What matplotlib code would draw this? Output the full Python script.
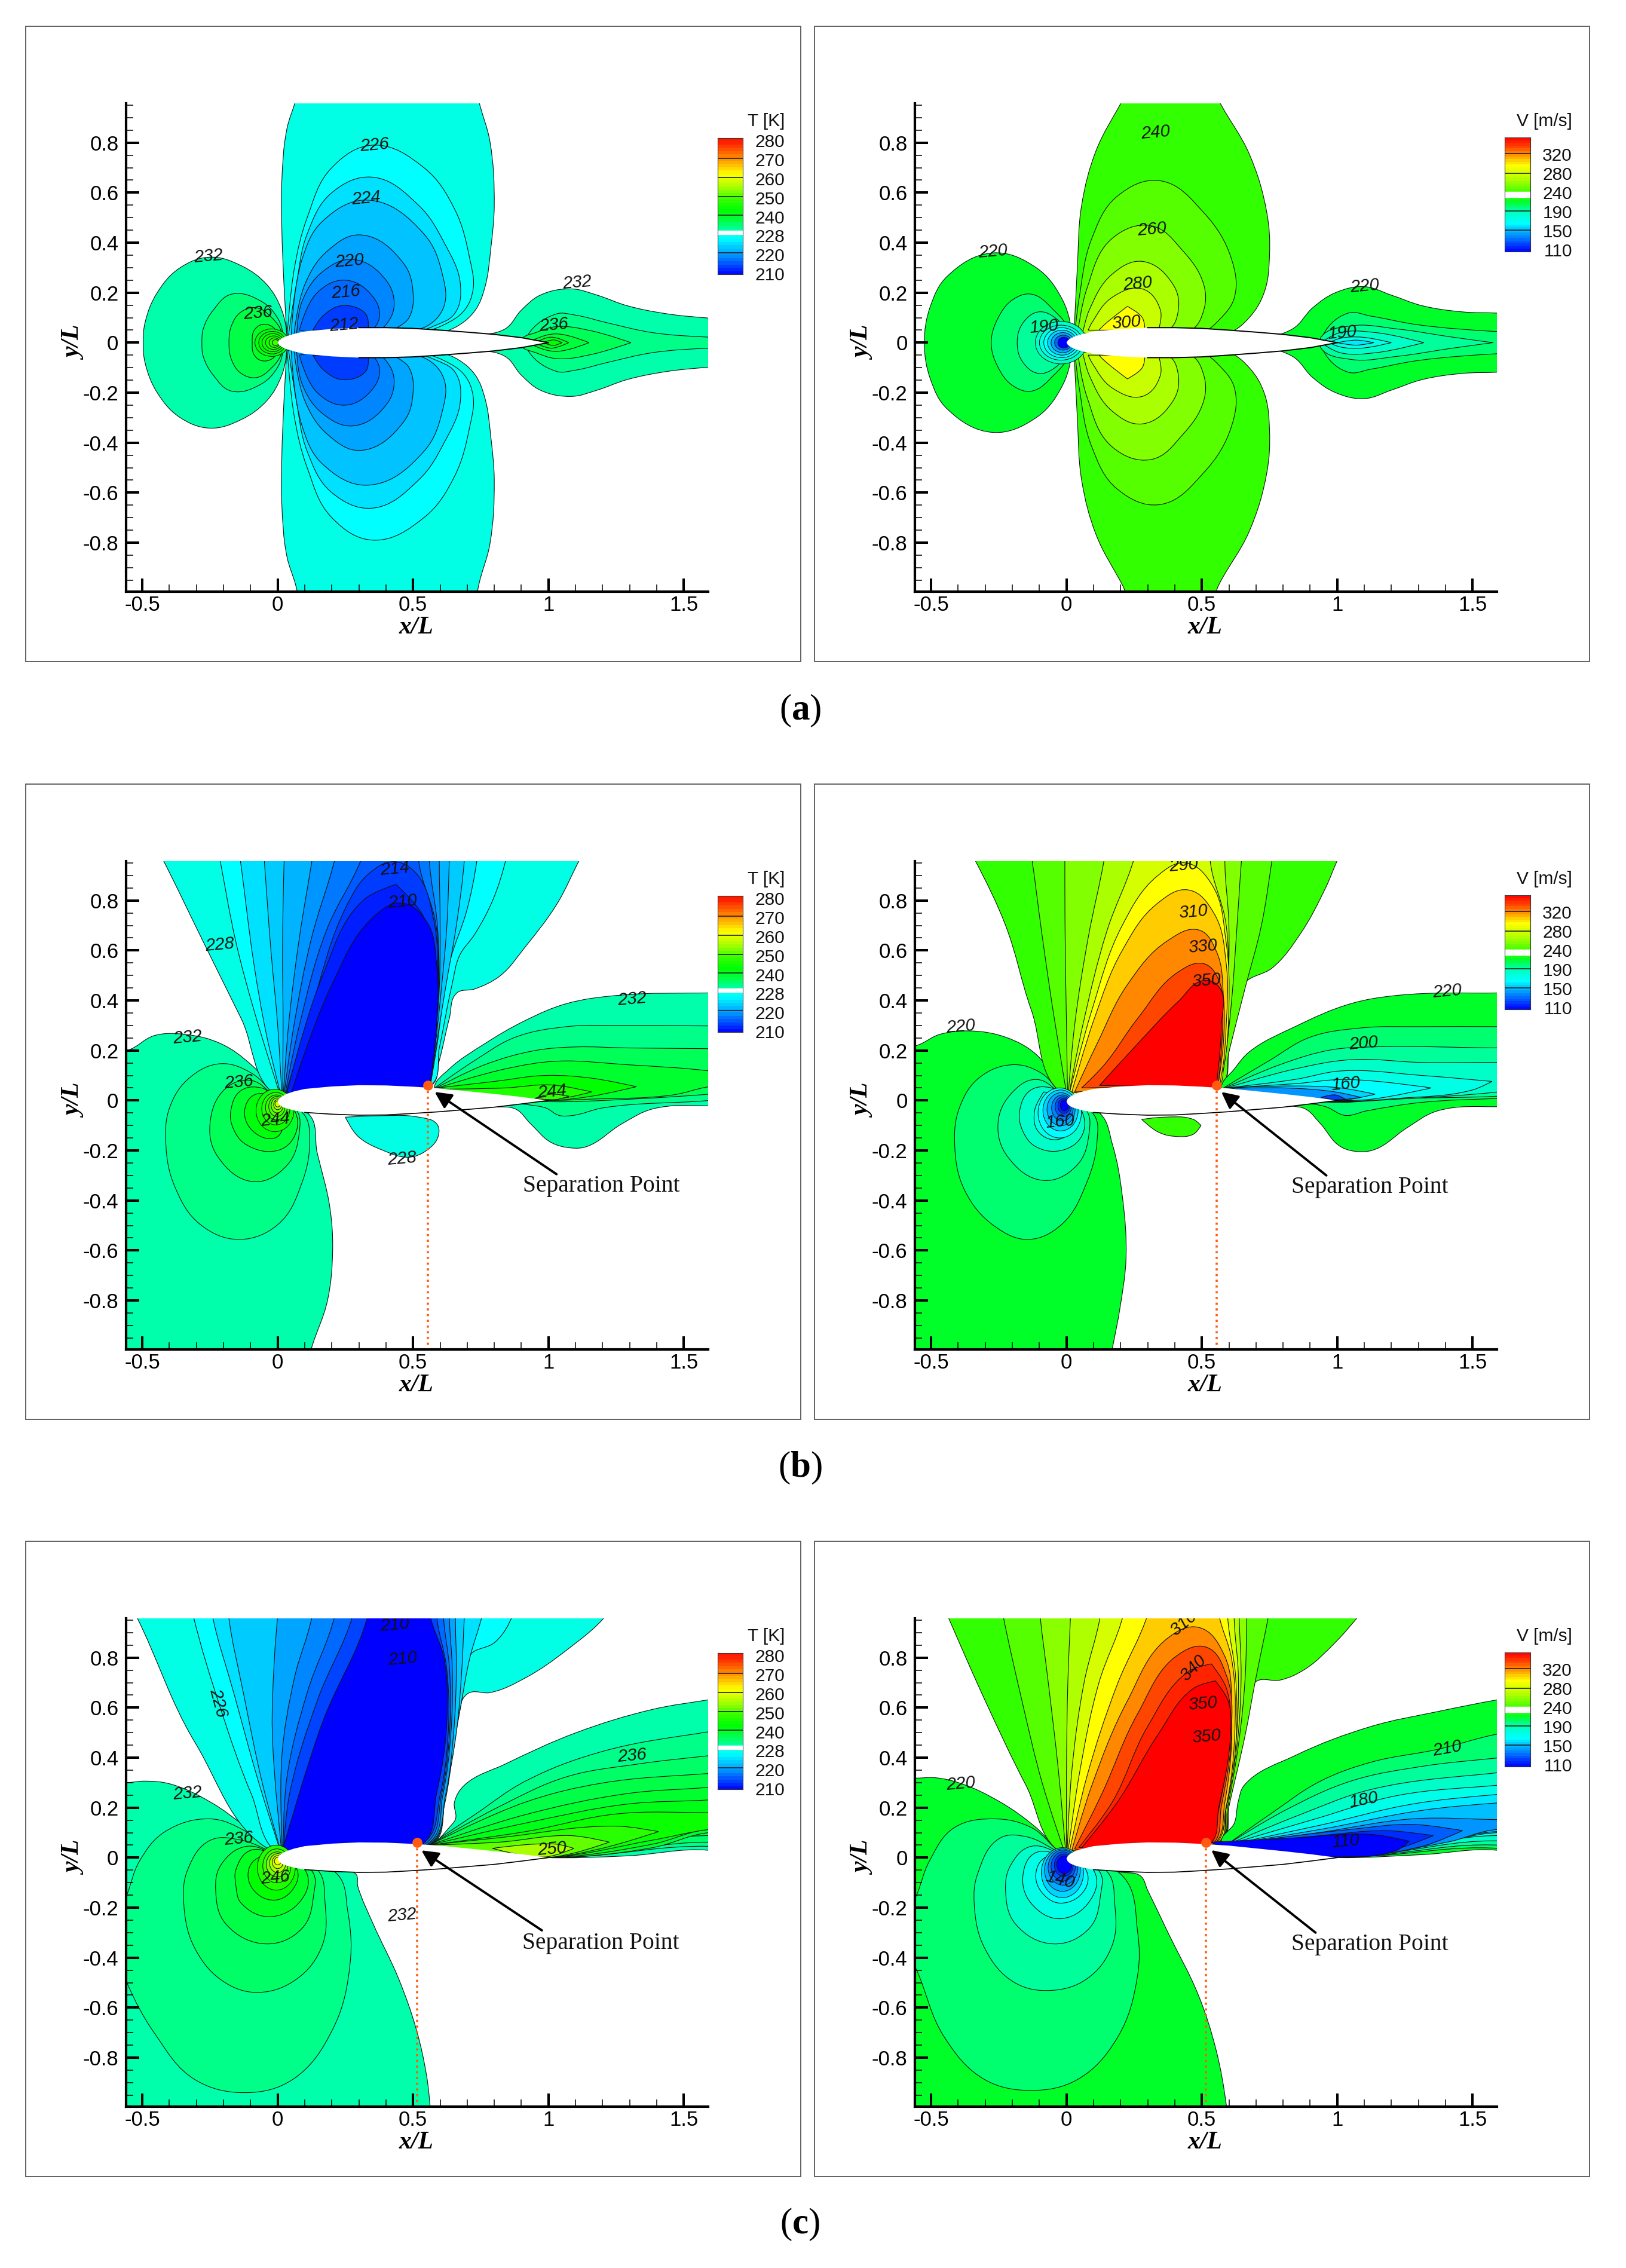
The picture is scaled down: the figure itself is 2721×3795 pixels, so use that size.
import numpy as np
import matplotlib
matplotlib.use('Agg')
import matplotlib.pyplot as plt
from matplotlib.path import Path
from matplotlib.patches import PathPatch, Ellipse, Rectangle

plt.rcParams['font.family'] = ['Liberation Sans', 'DejaVu Sans']
plt.rcParams['axes.unicode_minus'] = False
plt.rcParams['mathtext.fontset'] = 'custom'
plt.rcParams['mathtext.bf'] = 'Liberation Serif:bold'
plt.rcParams['mathtext.rm'] = 'Liberation Serif'

W, H = 2721, 3795

# colour scales
T_TICKS = [210, 220, 228, 240, 250, 260, 270, 280]
V_TICKS = [110, 150, 190, 240, 280, 320, 360]
T_NODES = [210, 227, 230, 232, 238, 244, 250, 256, 263, 270, 282]
T_R = [0, 0, 0, 0, 0, 0, 60, 170, 255, 255, 255]
T_G = [0, 255, 255, 255, 255, 255, 255, 255, 255, 160, 0]
T_B = [255, 255, 215, 170, 70, 0, 0, 0, 0, 0, 0]
V_NODES = [110, 170, 190, 210, 220, 240, 250, 260, 270, 280, 290, 300, 312, 325, 340, 360]
V_R = [0, 0, 0, 0, 0, 50, 85, 130, 170, 200, 225, 255, 255, 255, 255, 255]
V_G = [0, 255, 255, 255, 255, 255, 255, 255, 255, 255, 255, 255, 204, 136, 70, 0]
V_B = [255, 255, 200, 110, 40, 0, 0, 0, 0, 0, 0, 0, 0, 0, 0, 0]

# airfoil surfaces, row a is symmetric, rows b and c sit slightly tilted
FOIL_X = [0, .005, .015, .03, .06, .1, .2, .3, .4, .5, .6, .7, .8, .9, 1]
FOIL_A = [0, .009, .017, .025, .035, .045, .055, .06, .06, .057, .05, .042, .033, .02, 0]
FOIL_TILT_UP = [-.004, .007, .016, .025, .036, .046, .056, .061, .06, .055, .048, .037, .026, .014, 0]
FOIL_TILT_LO = [-.004, -.016, -.024, -.031, -.04, -.048, -.055, -.059, -.058, -.052, -.045, -.036, -.027, -.014, 0]

# ---- row a, temperature (upper half, mirrored when drawn)
A_T_LOBE = [
    (229, [(.034, .03), (.024, .215), (.015, .47), (.015, .64), (.034, .855), (.066, .968), (.1, 1.12), (.72, 1.12), (.743, .968), (.784, .805), (.80, .55), (.788, .384), (.765, .22), (.73, .13), (.67, .07), (.6, .04)]),
    (227, [(.035, .03), (.062, .30), (.109, .50), (.2, .70), (.353, .79), (.54, .70), (.653, .535), (.71, .333), (.722, .215), (.69, .13), (.615, .072), (.52, .04)]),
    (225, [(.04, .03), (.07, .24), (.109, .435), (.2, .60), (.349, .662), (.52, .55), (.615, .40), (.675, .232), (.653, .115), (.578, .067), (.5, .04)]),
    (223, [(.05, .03), (.09, .333), (.165, .485), (.334, .57), (.54, .435), (.61, .266), (.615, .148), (.56, .072), (.45, .04)]),
    (221, [(.06, .03), (.1, .232), (.184, .367), (.306, .431), (.465, .317), (.5, .2), (.484, .098), (.447, .064), (.4, .04)]),
    (219, [(.07, .03), (.09, .165), (.165, .283), (.278, .333), (.4, .25), (.43, .148), (.4, .072), (.36, .04)]),
    (217, [(.08, .05), (.146, .2), (.25, .25), (.353, .182), (.375, .098), (.343, .05)]),
    (214, [(.13, .05), (.17, .11), (.24, .148), (.325, .115), (.334, .05)]),
]
A_T_NOSE = [
    (232, [(.034, .0), (.034, .03), (.015, .13), (-.04, .232), (-.135, .308), (-.25, .342), (-.36, .30), (-.445, .2), (-.49, .08), (-.497, 0)]),
    (235, [(.02, 0), (.02, .03), (0, .098), (-.06, .165), (-.17, .194), (-.238, .13), (-.275, .055), (-.28, 0)]),
    (238, [(.015, 0), (.015, .04), (-.02, .098), (-.08, .14), (-.135, .123), (-.17, .07), (-.18, 0)]),
    (241, [(.005, 0), (.005, .02), (-.02, .064), (-.06, .072), (-.088, .047), (-.094, 0)]),
]
A_T_RINGS = [(243, -.022, 0, .062, .055), (244, -.02, 0, .05, .045), (245, -.018, 0, .04, .036),
             (246, -.015, 0, .03, .027), (248, -.012, 0, .02, .019), (250, -.008, 0, .012, .012)]
A_T_WAKE = [
    (232, [(.6, .03), (.73, .03), (.84, .055), (.9, .13), (.97, .19), (1.085, .215), (1.18, .19), (1.29, .148), (1.44, .115), (1.595, .098), (1.7, .09), (1.7, 0)]),
    (234, [(.915, 0), (.915, .013), (1.03, .115), (1.1, .11), (1.215, .08), (1.385, .04), (1.595, .022), (1.7, .02), (1.7, 0)]),
    (237, [(.9, 0), (.9, .013), (.953, .04), (1.03, .064), (1.16, .047), (1.305, 0)]),
    (239, [(.93, 0), (.953, .015), (1.03, .035), (1.15, 0)]),
    (241, [(.95, 0), (1.01, .022), (1.075, 0)]),
    (244, [(.98, 0), (1.02, .011), (1.05, 0)]),
]
A_T_LABELS = [('226', .358, .79, 5), ('224', .326, .578, 5), ('220', .266, .325, 5), ('216', .251, .202, 5), ('212', .246, .07, 5),
              ('232', -.257, .345, 5), ('236', -.073, .118, 5), ('232', 1.107, .239, 5), ('236', 1.02, .07, 5)]

# ---- row a, velocity
A_V_LOBE = [
    (240, [(.028, .03), (.04, .3), (.056, .55), (.11, .77), (.206, .968), (.28, 1.12), (.5, 1.12), (.563, .968), (.675, .755), (.74, .52), (.75, .35), (.73, .2), (.675, .1), (.6, .04)]),
    (250, [(.03, .03), (.047, .18), (.094, .418), (.188, .586), (.343, .648), (.507, .52), (.61, .333), (.62, .18), (.563, .09), (.5, .04)]),
    (260, [(.04, .03), (.075, .215), (.17, .418), (.31, .468), (.43, .367), (.507, .232), (.507, .13), (.46, .05)]),
    (270, [(.06, .04), (.084, .13), (.17, .275), (.28, .325), (.394, .232), (.413, .13), (.375, .05)]),
    (280, [(.08, .05), (.094, .08), (.17, .182), (.28, .215), (.347, .13), (.34, .05)]),
    (300, [(.12, .05), (.14, .072), (.225, .145), (.28, .1), (.29, .05)]),
]
A_V_NOSE = [
    (220, [(.019, 0), (.019, .047), (-.019, .18), (-.112, .3), (-.272, .359), (-.44, .266), (-.502, .148), (-.525, 0)]),
    (210, [(.01, 0), (.01, .047), (-.047, .13), (-.13, .194), (-.197, .173), (-.253, .098), (-.278, 0)]),
    (200, [(.005, 0), (.005, .03), (-.04, .098), (-.103, .123), (-.16, .08), (-.182, 0)]),
]
A_V_RINGS = [(190, -.02, 0, .095, .085), (180, -.02, 0, .08, .07), (170, -.018, 0, .066, .06), (160, -.016, 0, .054, .05),
             (150, -.014, 0, .043, .04), (135, -.012, 0, .032, .03), (110, -.01, 0, .022, .022)]
A_V_WAKE = [
    (220, [(.6, .03), (.713, .02), (.835, .055), (.91, .14), (.994, .2), (1.1, .224), (1.2, .19), (1.313, .148), (1.463, .123), (1.595, .118), (1.7, .11), (1.7, 0)]),
    (210, [(.94, 0), (.94, .013), (1.04, .118), (1.125, .106), (1.295, .072), (1.595, .044), (1.7, .04), (1.7, 0)]),
    (200, [(.94, 0), (.94, .022), (1.05, .067), (1.22, .055), (1.426, .022), (1.576, 0)]),
    (190, [(.94, 0), (1.01, .04), (1.144, .04), (1.32, 0)]),
    (180, [(.97, 0), (1.01, .017), (1.09, .022), (1.2, 0)]),
    (165, [(1.0, 0), (1.07, .01), (1.135, 0)]),
]
A_V_LABELS = [('240', .33, .839, 5), ('260', .315, .453, 5), ('280', .263, .236, 5), ('300', .221, .079, 5), ('220', -.272, .364, 5),
              ('190', -.084, .064, 5), ('220', 1.101, .226, 5), ('190', 1.019, .039, 5)]

# ---- row b, temperature
B_T_TOP = [
    (229, [(.01, .01), (-.135, .328), (-.266, .615), (-.426, .968), (-.5, 1.12), (1.2, 1.12), (1.118, .968), (1.03, .783), (.915, .615), (.82, .497), (.728, .446), (.662, .43), (.634, .328), (.597, .16), (.568, .06)]),
    (227, [(.012, .012), (-.088, .362), (-.154, .632), (-.214, .968), (-.24, 1.12), (.87, 1.12), (.844, .968), (.794, .8), (.728, .665), (.672, .58), (.644, .463), (.597, .21), (.566, .06)]),
    (225, [(.014, .012), (-.041, .26), (-.088, .547), (-.139, .968), (-.16, 1.12), (.75, 1.12), (.737, .968), (.7, .766), (.634, .547), (.587, .21), (.564, .06)]),
    (223.5, [(.016, .012), (0, .3), (-.025, .6), (-.05, .968), (-.06, 1.12), (.695, 1.12), (.69, .968), (.66, .7), (.62, .45), (.583, .2), (.563, .06)]),
    (222, [(.018, .012), (.02, .3), (.018, .6), (.024, .968), (.03, 1.12), (.638, 1.12), (.634, .968), (.625, .7), (.605, .45), (.58, .2), (.562, .06)]),
    (220, [(.02, .012), (.04, .3), (.08, .65), (.128, .968), (.15, 1.12), (.6, 1.12), (.597, .968), (.6, .7), (.597, .45), (.578, .2), (.561, .06)]),
    (218, [(.022, .012), (.06, .3), (.125, .65), (.212, .968), (.24, 1.12), (.565, 1.12), (.56, .968), (.59, .7), (.595, .45), (.575, .2), (.56, .06)]),
    (216, [(.025, .012), (.08, .3), (.18, .68), (.31, .968), (.35, 1.12), (.53, 1.12), (.52, .968), (.585, .7), (.592, .45), (.573, .2), (.559, .06)]),
    (214, [(.028, .02), (.12, .35), (.26, .79), (.34, .91), (.43, .955), (.51, .91), (.575, .73), (.59, .45), (.572, .2), (.558, .06)]),
    (212, [(.034, .03), (.165, .497), (.315, .8), (.437, .864), (.54, .733), (.587, .463), (.572, .2), (.557, .06)]),
    (210, [(.05, .03), (.2, .463), (.353, .733), (.456, .79), (.55, .716), (.587, .547), (.587, .295), (.56, .04)]),
]
B_T_BLOB = [(229, [(.25, -.067), (.353, -.062), (.522, -.067), (.587, -.093), (.593, -.143), (.55, -.2), (.484, -.227), (.39, -.2), (.296, -.143)])]
B_T_NOSE = [
    (232, [(-.7, .2), (-.557, .2), (-.454, .26), (-.34, .264), (-.21, .227), (-.098, .143), (0, .025), (.062, -.042), (.11, -.05), (.146, -.21), (.193, -.43), (.203, -.6), (.184, -.8), (.124, -.994), (.1, -1.1), (-.7, -1.1)]),
    (234, [(0, .012), (-.098, .11), (-.21, .147), (-.323, .093), (-.398, -.025), (-.413, -.177), (-.38, -.345), (-.285, -.497), (-.144, -.556), (0, -.497), (.09, -.328), (.118, -.16), (.1, -.06)]),
    (237, [(0, .005), (-.098, .08), (-.19, .05), (-.25, -.093), (-.22, -.227), (-.088, -.325), (.034, -.26), (.08, -.126), (.07, -.04)]),
    (240, [(0, .005), (-.06, .05), (-.135, .04), (-.173, -.04), (-.165, -.11), (-.116, -.177), (0, -.2), (.062, -.143), (.062, -.04)]),
    (243, [(0, 0), (-.08, .025), (-.122, -.04), (-.088, -.126), (-.01, -.15), (.024, -.1), (.034, -.04)]),
]
B_T_RINGS = [(245, -.01, -.04, .07, .085), (247, -.007, -.033, .052, .065), (249, -.005, -.028, .04, .05), (251, -.003, -.024, .03, .04),
             (253, -.002, -.02, .022, .03), (256, 0, -.017, .015, .02), (259, 0, -.014, .01, .012)]
B_T_WAKE = [
    (232, [(.578, .05), (.634, .126), (.765, .227), (.915, .32), (1.066, .387), (1.253, .42), (1.595, .43), (1.7, .43), (1.7, -.03), (1.595, -.022), (1.385, -.034), (1.272, -.093), (1.14, -.185), (1.084, -.19), (1.01, -.168), (.934, -.093), (.878, -.034), (.8, -.025), (.6, 0)]),
    (234, [(.58, .05), (.728, .16), (.878, .253), (1.066, .295), (1.29, .3), (1.595, .298), (1.7, .298), (1.7, .012), (1.595, 0), (1.2, -.03), (1.09, -.06), (1.04, -.06), (.99, -.03), (.93, -.018), (.8, 0)]),
    (237, [(.585, .05), (.765, .143), (.953, .2), (1.1, .214), (1.29, .21), (1.595, .207), (1.7, .205), (1.7, .035), (1.595, .025), (1.3, .005), (1.0, -.005), (.8, .01)]),
    (240, [(.59, .05), (.84, .126), (1.03, .157), (1.29, .143), (1.595, .118), (1.7, .1), (1.7, .06), (1.595, .055), (1.46, .022), (1.15, .005), (1, 0), (.8, .01)]),
    (244, [(.59, .05), (.8, .076), (.99, .1), (1.16, .089), (1.325, .055), (1.16, .017), (1, 0), (.8, .015)]),
    (247, [(.6, .045), (.84, .05), (1.01, .062), (1.16, .034), (1.03, .006), (.8, .02)]),
    (249, [(.95, .008), (1.01, .025), (1.075, .017), (1.03, .004)]),
]
B_T_LABELS = [('214', .432, .926, 5), ('210', .462, .795, 5), ('228', -.214, .623, 5), ('232', -.334, .253, 5), ('236', -.144, .072, 5), ('244', -.009, -.079, 5),
              ('228', .46, -.234, 5), ('232', 1.31, .406, 5), ('244', 1.013, .034, 5)]

# ---- row b, velocity
B_V_TOP = [
    (240, [(0, .017), (-.13, .362), (-.225, .7), (-.341, .968), (-.42, 1.12), (1.08, 1.12), (1.004, .968), (.957, .85), (.863, .665), (.76, .53), (.657, .468), (.63, .362), (.6, .194), (.572, .06)]),
    (250, [(.002, .017), (-.05, .362), (-.09, .66), (-.128, .968), (-.15, 1.12), (.78, 1.12), (.76, .968), (.72, .7), (.66, .45), (.6, .194), (.57, .06)]),
    (260, [(.004, .017), (.0, .3), (-.005, .65), (-.006, .968), (-.005, 1.12), (.66, 1.12), (.647, .968), (.63, .7), (.61, .4), (.585, .16), (.568, .06)]),
    (270, [(.006, .017), (.03, .3), (.08, .65), (.14, .968), (.16, 1.12), (.595, 1.12), (.585, .968), (.6, .7), (.595, .4), (.58, .16), (.566, .06)]),
    (285, [(.008, .017), (.06, .3), (.15, .68), (.25, .968), (.28, 1.12), (.54, 1.12), (.53, .968), (.59, .7), (.595, .4), (.58, .16), (.564, .06)]),
    (300, [(.01, .025), (.094, .362), (.206, .7), (.338, .9), (.44, .95), (.535, .867), (.59, .63), (.6, .38), (.58, .126), (.562, .06)]),
    (312, [(.02, .034), (.103, .328), (.206, .6), (.338, .79), (.45, .842), (.544, .75), (.59, .547), (.59, .3), (.572, .1), (.56, .06)]),
    (325, [(.03, .034), (.113, .227), (.225, .463), (.375, .64), (.488, .682), (.553, .598), (.58, .413), (.58, .235), (.56, .06)]),
    (340, [(.056, .05), (.14, .143), (.263, .328), (.413, .514), (.507, .547), (.563, .48), (.577, .33), (.56, .06)]),
    (360, [(.122, .06), (.263, .227), (.413, .396), (.507, .48), (.563, .455), (.572, .295), (.553, .05)]),
]
B_V_BLOB = [(240, [(.278, -.076), (.356, -.067), (.469, -.076), (.497, -.1), (.469, -.135), (.394, -.143), (.338, -.126)])]
B_V_NOSE = [
    (220, [(-.7, .2), (-.553, .22), (-.469, .264), (-.356, .278), (-.225, .253), (-.113, .185), (-.01, .034), (.056, -.025), (.122, -.05), (.17, -.177), (.206, -.38), (.22, -.63), (.197, -.834), (.169, -.994), (.15, -1.1), (-.7, -1.1)]),
    (210, [(-.01, .017), (-.094, .11), (-.197, .143), (-.32, .093), (-.394, -.025), (-.413, -.177), (-.375, -.362), (-.263, -.505), (-.141, -.556), (-.019, -.497), (.075, -.328), (.113, -.16), (.103, -.06)]),
    (200, [(-.01, .017), (-.113, .084), (-.206, .025), (-.253, -.093), (-.216, -.227), (-.084, -.32), (.038, -.26), (.084, -.126), (.075, -.042)]),
    (190, [(-.01, .017), (-.056, .05), (-.131, .042), (-.173, -.042), (-.16, -.126), (-.113, -.185), (-.019, -.2), (.056, -.143), (.056, -.042)]),
    (180, [(-.01, .012), (-.084, .034), (-.118, -.042), (-.103, -.126), (-.038, -.157), (.028, -.11), (.038, -.042)]),
]
B_V_RINGS = [(170, -.025, -.05, .08, .1), (160, -.022, -.04, .065, .082), (150, -.02, -.035, .052, .066), (140, -.015, -.03, .04, .052),
             (130, -.012, -.025, .03, .04), (120, -.01, -.022, .022, .03), (110, -.008, -.02, .015, .022)]
B_V_WAKE = [
    (220, [(.572, .05), (.62, .126), (.675, .194), (.844, .295), (1.05, .387), (1.22, .42), (1.595, .43), (1.7, .43), (1.7, -.03), (1.595, -.025), (1.37, -.042), (1.257, -.11), (1.144, -.194), (1.088, -.205), (1.013, -.185), (.938, -.093), (.882, -.034), (.826, -.022), (.6, 0)]),
    (210, [(.58, .05), (.75, .16), (.9, .253), (1.088, .29), (1.313, .295), (1.595, .295), (1.7, .295), (1.7, .012), (1.595, .008), (1.31, -.008), (1.107, -.042), (1.03, -.06), (.957, -.025), (.8, 0)]),
    (200, [(.585, .05), (.788, .143), (.976, .202), (1.126, .214), (1.595, .21), (1.7, .21), (1.7, .025), (1.595, .017), (1.18, .005), (1.013, -.008), (.8, .01)]),
    (190, [(.59, .05), (.844, .126), (1.05, .163), (1.313, .152), (1.595, .152), (1.7, .15), (1.7, .05), (1.595, .034), (1.22, .005), (1.013, -.005), (.8, .012)]),
    (180, [(.59, .05), (.844, .084), (1.013, .118), (1.313, .1), (1.572, .076), (1.5, .042), (1.22, .008), (1.013, -.003), (.8, .015)]),
    (170, [(.59, .05), (.844, .067), (1.03, .084), (1.347, .05), (1.126, .005), (1.0, 0), (.8, .018)]),
    (160, [(.59, .05), (.844, .058), (1.013, .05), (1.14, .025), (1.013, 0), (.8, .02)]),
    (145, [(.6, .048), (.807, .05), (.994, .034), (1.088, .012), (.99, .002), (.8, .022)]),
    (125, [(.94, .012), (.994, .022), (1.03, .005), (.99, .003)]),
]
B_V_LABELS = [('290', .432, .94, 5), ('310', .469, .754, 5), ('330', .503, .615, 5), ('350', .516, .48, 5), ('220', -.39, .295, 5), ('160', -.023, -.086, 5),
              ('220', 1.407, .436, 5), ('200', 1.098, .227, 5), ('160', 1.032, .066, 5)]

# ---- row c, temperature
C_T_TOP = [
    (229, [(.01, .01), (-.304, .458), (-.525, .972), (-.6, 1.12), (1.3, 1.12), (1.216, .972), (1.066, .829), (.915, .719), (.784, .66), (.709, .66), (.68, .627), (.653, .458), (.615, .205), (.578, .06)]),
    (227, [(.012, .012), (-.098, .256), (-.21, .593), (-.313, .972), (-.34, 1.12), (.9, 1.12), (.869, .972), (.803, .862), (.71, .81), (.68, .627), (.65, .458), (.61, .205), (.575, .06)]),
    (225, [(.014, .012), (-.07, .3), (-.16, .65), (-.242, .972), (-.26, 1.12), (.78, 1.12), (.756, .972), (.71, .8), (.675, .6), (.645, .42), (.605, .2), (.572, .06)]),
    (223.5, [(.015, .012), (-.055, .29), (-.125, .65), (-.182, .972), (-.19, 1.12), (.7, 1.12), (.69, .972), (.68, .75), (.66, .5), (.62, .26), (.57, .06)]),
    (221, [(.016, .012), (-.02, .5), (-.012, .8), (0, .972), (.01, 1.12), (.665, 1.12), (.657, .972), (.66, .75), (.65, .5), (.62, .25), (.565, .06)]),
    (219, [(.018, .012), (.015, .4), (.062, .72), (.128, .972), (.14, 1.12), (.64, 1.12), (.634, .972), (.645, .75), (.64, .5), (.61, .25), (.56, .06)]),
    (217, [(.02, .012), (.034, .32), (.109, .66), (.212, .972), (.23, 1.12), (.615, 1.12), (.612, .972), (.635, .75), (.635, .5), (.605, .25), (.55, .06)]),
    (214.5, [(.02, .012), (.043, .25), (.147, .63), (.278, .972), (.3, 1.12), (.59, 1.12), (.587, .972), (.625, .75), (.63, .5), (.6, .25), (.54, .06)]),
    (210, [(.015, .02), (.165, .54), (.334, .972), (.35, 1.12), (.56, 1.12), (.563, .972), (.615, .795), (.625, .54), (.587, .256), (.531, .05)]),
]
C_T_NOSE = [
    (232, [(-.7, .3), (-.557, .3), (-.49, .306), (-.398, .295), (-.248, .222), (-.116, .12), (0, .012), (.1, -.047), (.287, -.064), (.296, -.115), (.353, -.266), (.447, -.485), (.512, -.687), (.55, -.872), (.563, -.994), (.57, -1.1), (-.7, -1.1)]),
    (234, [(0, .012), (-.116, .104), (-.248, .155), (-.416, .104), (-.51, -.013), (-.557, -.148), (-.62, -.3), (-.557, -.5), (-.454, -.704), (-.304, -.889), (-.116, -.94), (.053, -.889), (.203, -.687), (.268, -.418), (.259, -.216), (.218, -.064)]),
    (236, [(0, .012), (-.135, .07), (-.248, .07), (-.332, -.047), (-.347, -.182), (-.304, -.367), (-.191, -.502), (-.069, -.539), (.071, -.485), (.165, -.35), (.175, -.182), (.146, -.047)]),
    (238, [(0, .006), (-.116, .045), (-.21, -.03), (-.229, -.131), (-.191, -.266), (-.041, -.345), (.09, -.283), (.133, -.148), (.128, -.056)]),
    (241, [(0, .004), (-.098, .03), (-.154, -.047), (-.154, -.115), (-.135, -.182), (-.022, -.236), (.1, -.148), (.1, -.047)]),
    (244, [(0, 0), (-.07, 0), (-.107, -.047), (-.088, -.131), (-.013, -.17), (.053, -.131), (.071, -.047)]),
]
C_T_RINGS = [(247, -.005, -.04, .07, .09), (250, -.003, -.033, .052, .068), (253, -.002, -.027, .04, .05), (256, 0, -.022, .03, .038),
             (259, 0, -.018, .02, .026), (262, 0, -.014, .012, .015)]
C_T_WAKE = [
    (232, [(.578, .054), (.634, .121), (.657, .155), (.653, .222), (.69, .29), (.84, .374), (1.103, .5), (1.385, .593), (1.595, .632), (1.7, .65), (1.7, 0), (1.595, .029), (1.29, .007), (.99, 0), (.6, .03)]),
    (234, [(.56, .05), (.728, .172), (.915, .306), (1.197, .424), (1.595, .504), (1.7, .52), (1.7, .03), (1.595, .045), (1.103, .003), (.99, 0), (.6, .03)]),
    (236, [(.56, .05), (.82, .205), (1.066, .323), (1.328, .374), (1.595, .408), (1.7, .42), (1.7, .05), (1.595, .062), (1.103, .006), (.99, 0), (.6, .03)]),
    (238, [(.56, .05), (.915, .222), (1.197, .298), (1.595, .337), (1.7, .345), (1.7, .07), (1.595, .088), (1.103, .008), (.99, 0), (.6, .03)]),
    (240, [(.56, .05), (.915, .172), (1.29, .256), (1.595, .281), (1.7, .29), (1.7, .09), (1.595, .1), (1.385, .04), (.99, 0), (.6, .03)]),
    (242, [(.56, .05), (.915, .138), (1.29, .214), (1.595, .231), (1.7, .24), (1.7, .1), (1.595, .113), (1.385, .054), (.99, 0), (.6, .03)]),
    (245, [(.56, .05), (.915, .104), (1.253, .175), (1.595, .18), (1.7, .18), (1.7, .12), (1.595, .113), (1.385, .07), (.99, 0), (.6, .03)]),
    (248, [(.56, .05), (.82, .08), (1.253, .126), (1.407, .104), (1.197, .037), (.99, 0), (.6, .03)]),
    (252, [(.56, .05), (.82, .062), (1.084, .088), (1.225, .062), (1.1, .02), (.99, 0), (.6, .03)]),
    (256, [(.794, .037), (1.028, .054), (1.094, .037), (.99, .003)]),
]
C_T_LABELS = [('210', .432, .93, 5), ('210', .462, .795, 5), ('226', -.22, .618, -75), ('232', -.334, .256, 5), ('236', -.144, .074, 5), ('246', -.009, -.081, 5),
              ('250', 1.013, .034, 5), ('236', 1.31, .408, 5), ('232', .46, -.232, 5)]

# ---- row c, velocity
C_V_TOP = [
    (240, [(-.006, .012), (-.15, .29), (-.3, .627), (-.441, .972), (-.5, 1.12), (1.2, 1.12), (1.084, .972), (.994, .862), (.88, .753), (.788, .71), (.704, .707), (.679, .669), (.647, .492), (.6, .205), (.572, .06)]),
    (250, [(-.004, .012), (-.09, .3), (-.165, .63), (-.235, .972), (-.26, 1.12), (.77, 1.12), (.747, .972), (.7, .72), (.66, .49), (.6, .205), (.57, .06)]),
    (262, [(-.002, .012), (-.03, .35), (-.065, .68), (-.098, .972), (-.11, 1.12), (.67, 1.12), (.666, .972), (.66, .72), (.635, .45), (.595, .2), (.568, .06)]),
    (272, [(0, .012), (0, .35), (.005, .7), (.015, .972), (.02, 1.12), (.64, 1.12), (.638, .972), (.645, .72), (.63, .45), (.59, .2), (.565, .06)]),
    (285, [(.002, .012), (.02, .35), (.065, .7), (.126, .972), (.14, 1.12), (.625, 1.12), (.619, .972), (.635, .72), (.625, .45), (.59, .2), (.56, .06)]),
    (300, [(.004, .012), (.05, .35), (.12, .7), (.21, .972), (.23, 1.12), (.6, 1.12), (.595, .972), (.625, .72), (.625, .45), (.59, .2), (.55, .06)]),
    (312, [(.01, .02), (.075, .323), (.188, .694), (.3, .972), (.33, 1.12), (.55, 1.12), (.563, .972), (.61, .795), (.623, .542), (.59, .205), (.545, .05)]),
    (325, [(.02, .03), (.094, .29), (.225, .627), (.375, .879), (.488, .921), (.582, .812), (.61, .593), (.585, .222), (.54, .05)]),
    (340, [(.03, .035), (.131, .256), (.263, .576), (.413, .812), (.516, .842), (.591, .728), (.61, .509), (.572, .205), (.535, .05)]),
    (350, [(.045, .04), (.169, .222), (.3, .525), (.45, .744), (.535, .775), (.591, .677), (.604, .492), (.565, .205), (.53, .05)]),
    (360, [(.056, .04), (.188, .222), (.338, .492), (.469, .677), (.55, .707), (.597, .627), (.606, .492), (.563, .205), (.525, .05)]),
]
C_V_NOSE = [
    (220, [(-.7, .32), (-.553, .318), (-.488, .32), (-.394, .298), (-.244, .222), (-.113, .121), (-.01, .012), (.113, -.047), (.206, -.059), (.272, -.072), (.3, -.131), (.375, -.3), (.488, -.552), (.553, -.771), (.591, -.994), (.6, -1.1), (-.7, -1.1)]),
    (210, [(-.01, .012), (-.131, .121), (-.263, .155), (-.413, .121), (-.506, -.013), (-.553, -.148), (-.62, -.3), (-.553, -.451), (-.45, -.72), (-.3, -.889), (-.131, -.931), (.038, -.889), (.188, -.72), (.263, -.468), (.263, -.3), (.206, -.072)]),
    (200, [(-.01, .012), (-.15, .084), (-.244, .079), (-.328, -.064), (-.341, -.182), (-.3, -.367), (-.188, -.502), (-.056, -.531), (.075, -.485), (.169, -.35), (.178, -.182), (.15, -.056)]),
    (190, [(-.01, .008), (-.131, .045), (-.206, -.03), (-.225, -.131), (-.188, -.266), (-.047, -.345), (.084, -.283), (.126, -.148), (.122, -.056)]),
    (180, [(-.01, .004), (-.113, .02), (-.16, -.064), (-.131, -.182), (-.019, -.244), (.1, -.148), (.098, -.047)]),
    (170, [(-.01, 0), (-.075, .003), (-.113, -.064), (-.084, -.148), (-.019, -.182), (.066, -.131), (.071, -.047)]),
]
C_V_RINGS = [(160, -.015, -.06, .078, .1), (150, -.015, -.05, .066, .085), (140, -.013, -.04, .055, .07), (130, -.012, -.035, .045, .058),
             (120, -.01, -.03, .035, .045), (110, -.008, -.028, .028, .035)]
C_V_WAKE = [
    (220, [(.572, .062), (.62, .138), (.634, .222), (.657, .29), (.844, .408), (1.126, .525), (1.37, .584), (1.595, .632), (1.7, .65), (1.7, 0), (1.595, .029), (1.313, .012), (.994, 0), (.6, .03)]),
    (210, [(.59, .05), (.75, .172), (.938, .306), (1.126, .382), (1.37, .433), (1.595, .495), (1.7, .51), (1.7, .015), (1.595, .037), (1.126, .006), (.994, 0), (.6, .03)]),
    (200, [(.59, .05), (.807, .189), (1.05, .306), (1.313, .365), (1.595, .399), (1.7, .41), (1.7, .03), (1.595, .05), (1.126, .008), (.994, 0), (.6, .03)]),
    (190, [(.59, .05), (.863, .172), (1.126, .273), (1.595, .34), (1.7, .35), (1.7, .05), (1.595, .067), (1.126, .01), (.994, 0), (.6, .03)]),
    (178, [(.59, .05), (.919, .155), (1.22, .248), (1.595, .29), (1.7, .3), (1.7, .07), (1.595, .088), (1.126, .012), (.994, 0), (.6, .03)]),
    (165, [(.59, .05), (.938, .13), (1.276, .214), (1.595, .253), (1.7, .26), (1.7, .09), (1.595, .1), (1.313, .045), (.994, 0), (.6, .03)]),
    (155, [(.58, .05), (.938, .113), (1.313, .189), (1.595, .219), (1.7, .225), (1.7, .1), (1.595, .105), (1.313, .05), (.994, 0), (.6, .03)]),
    (145, [(.58, .05), (.938, .101), (1.276, .155), (1.595, .152), (1.7, .15), (1.7, .1), (1.595, .113), (1.407, .062), (.994, 0), (.6, .03)]),
    (132, [(.57, .05), (1.05, .113), (1.276, .133), (1.463, .108), (1.313, .045), (.994, 0), (.6, .03)]),
    (120, [(.57, .05), (.938, .088), (1.182, .108), (1.355, .088), (1.22, .035), (.994, 0), (.6, .03)]),
    (110, [(.535, .062), (.844, .079), (1.126, .093), (1.266, .066), (1.22, .029), (.994, .003), (.6, .03)]),
]
C_V_LABELS = [('310', .432, .938, 40), ('340', .469, .758, 45), ('350', .503, .615, 5), ('350', .516, .483, 5), ('220', -.39, .295, 5), ('140', -.023, -.089, -15),
              ('210', 1.407, .436, 10), ('180', 1.098, .231, 10), ('110', 1.032, .066, 5)]

X_TICKS = [-0.5, 0, 0.5, 1, 1.5]
X_TICK_LABELS = ['-0.5', '0', '0.5', '1', '1.5']
Y_TICKS = [-0.8, -0.6, -0.4, -0.2, 0, 0.2, 0.4, 0.6, 0.8]
Y_TICK_LABELS = ['-0.8', '-0.6', '-0.4', '-0.2', '0', '0.2', '0.4', '0.6', '0.8']

SEP_B = (.555, .06)
SEP_C = (.515, .06)


def level_color(kind, level):
    if kind == 'T':
        nodes, r, g, b = T_NODES, T_R, T_G, T_B
    else:
        nodes, r, g, b = V_NODES, V_R, V_G, V_B
    return (np.interp(level, nodes, r) / 255, np.interp(level, nodes, g) / 255, np.interp(level, nodes, b) / 255)


def smooth_path(points):
    p = np.array(points, float)
    n = len(p)
    tang = np.zeros_like(p)
    for i in range(n):
        a = p[i] - p[i - 1]
        b = p[(i + 1) % n] - p[i]
        la, lb = np.linalg.norm(a), np.linalg.norm(b)
        # sharp bends stay sharp
        if a.dot(b) / (la * lb + 1e-9) > 0.25:
            t = a / la + b / lb
            tang[i] = t / np.linalg.norm(t)
    verts = [p[0]]
    codes = [Path.MOVETO]
    for i in range(n):
        j = (i + 1) % n
        seg = np.linalg.norm(p[j] - p[i])
        verts += [p[i] + tang[i] * seg * .36, p[j] - tang[j] * seg * .36, p[j]]
        codes += [Path.CURVE4, Path.CURVE4, Path.CURVE4]
    return Path(verts, codes)


def flip(points):
    return [(x, -y) for x, y in points]


def both(points):
    return points + [(x, -y) for x, y in points[::-1] if y != 0]


def px_axes(x0, y0, x1, y1):
    return fig.add_axes([x0 / W, 1 - y1 / H, (x1 - x0) / W, (y1 - y0) / H])


def draw_colorbar(kind, dx, dy):
    if kind == 'T':
        ticks, bar = T_TICKS, (1201, 231 + dy, 1243, 459 + dy)
        lo, hi = 0.0, 7.2
        lines = [1.13, 3.13, 4.12, 5.12, 6.13]
        gap = (2.13, 2.31)
        tick_y = [461 + dy - 31.8 * i for i in range(8)]
        title = 'T [K]'
        labels = ticks
    else:
        ticks, bar = V_TICKS, (2518 - dx, 230 + dy, 2561 - dx, 421 + dy)
        lo, hi = 0.0, 6.0
        lines = [1.14, 2.14, 4.12, 5.15]
        gap = (2.86, 3.13)
        tick_y = [421 + dy - 32 * i for i in range(6)]
        title = 'V [m/s]'
        labels = ticks[:6]
    cax = px_axes(bar[0] + dx, bar[1], bar[2] + dx, bar[3])
    edges = np.linspace(lo, hi, 43)
    mids = (edges[:-1] + edges[1:]) / 2
    vals = np.interp(mids, np.arange(len(ticks)), ticks)
    colors = np.array([level_color(kind, v) for v in vals])[:, None, :]
    cax.imshow(colors, origin='lower', extent=(0, 1, lo, hi), aspect='auto', interpolation='nearest')
    cax.axhspan(gap[0], gap[1], color='white')
    for ln in lines:
        cax.axhline(ln, color='#222222', lw=1.2)
    cax.set_xticks([])
    cax.set_yticks([])
    for s in cax.spines.values():
        s.set_linewidth(0.8)
        s.set_color('#333333')
    rx = (1313 + dx) if kind == 'T' else 2631
    for lab, yy in zip(labels, tick_y):
        fig.text(rx / W, 1 - yy / H, str(lab), ha='right', va='center', fontsize=21.5, color='#111111')
    fig.text(rx / W, 1 - (203 + dy) / H, title, ha='right', va='center', fontsize=21.5, color='#111111')


def draw_panel(kind, col, row, shapes, rings, labels, sep=None, tail=None, tip=None, text_xy=None):
    dx = 1320 * col
    dy = [0, 1268, 2535][row]
    fig.add_artist(Rectangle((((43 + dx) / W), 1 - (1107 + dy) / H), 1297 / W, 1063 / H, transform=fig.transFigure,
                             fill=False, edgecolor='#555555', lw=1.3))
    ax = px_axes(211 + dx, 173 + dy, 1185 + dx, 990 + dy)
    # white gaps are what stays unpainted
    for level, pts in shapes:
        ax.add_patch(PathPatch(smooth_path(pts), facecolor=level_color(kind, level), edgecolor='#111111', lw=0.8, zorder=1))
    for level, cx, cy, rx, ry in rings:
        ax.add_patch(Ellipse((cx, cy), 2 * rx, 2 * ry, facecolor=level_color(kind, level), edgecolor='#111111', lw=0.7, zorder=1))
    fx = np.array(FOIL_X)
    if row == 0:
        up, lo = np.array(FOIL_A), -np.array(FOIL_A)
    else:
        up, lo = np.array(FOIL_TILT_UP), np.array(FOIL_TILT_LO)
    ax.fill(np.r_[fx, fx[::-1]], np.r_[up, lo[::-1]], facecolor='white', edgecolor='none', zorder=1.5)
    if row == 0:
        ax.plot(fx[fx >= .3], lo[fx >= .3], color='k', lw=1.4, zorder=1.6)
        ax.plot(fx[fx >= .3], up[fx >= .3], color='k', lw=1.4, zorder=1.6)
    else:
        ax.plot(fx[fx >= .1], lo[fx >= .1], color='k', lw=1.2, zorder=1.6)
    for txt, x, y, rot in labels:
        ax.text(x, y, txt, fontsize=21, style='italic', rotation=rot, ha='center', va='center', color='#111111', zorder=3, clip_on=True)
    if sep is not None:
        ax.plot([sep[0], sep[0]], [sep[1], -1], color='#FF5A10', ls=':', lw=2.6, zorder=2)
        ax.plot(sep[0], sep[1], 'o', color='#FF5A10', ms=12, mec='none', zorder=3.5)
        ax.annotate('', xy=tip, xytext=tail, zorder=3,
                    arrowprops=dict(arrowstyle='-|>', lw=2.8, color='k', mutation_scale=42, shrinkA=0, shrinkB=0))
        ax.text(text_xy[0], text_xy[1] - .006, 'Separation Point', family='Liberation Serif', fontsize=28.5, ha='center', va='center', color='#111111', zorder=3)
    ax.set_xlim(-.56, 1.59)
    ax.set_ylim(-.996, .957)
    ax.set_xticks(X_TICKS)
    ax.set_xticklabels(X_TICK_LABELS)
    ax.set_yticks(Y_TICKS)
    ax.set_yticklabels(Y_TICK_LABELS)
    ax.set_xticks(np.arange(-.5, 1.6, .1), minor=True)
    ax.set_yticks(np.arange(-.95, .96, .05), minor=True)
    ax.tick_params(which='major', direction='in', length=16, width=2.9, labelsize=25, pad=9)
    ax.tick_params(axis='x', which='major', pad=4)
    ax.tick_params(which='minor', direction='in', length=8.5, width=1.1)
    ax.spines['top'].set_visible(False)
    ax.spines['right'].set_visible(False)
    ax.spines['left'].set_linewidth(3.0)
    ax.spines['bottom'].set_linewidth(3.0)
    ax.patch.set_alpha(0)
    fig.text((696 + dx) / W, 1 - (1050 + dy) / H, 'x/L', family='Liberation Serif', style='italic', weight='bold', fontsize=30, ha='center', va='center')
    fig.text((125 + dx) / W, 1 - (574 + dy) / H, 'y/L', family='Liberation Serif', style='italic', weight='bold', fontsize=30, ha='center', va='center', rotation=90)
    draw_colorbar(kind, dx, dy)


fig = plt.figure(figsize=(W / 100, H / 100), dpi=100, facecolor='white')

a_t = [(l, p) for l, p in A_T_LOBE] + [(l, flip(p)) for l, p in A_T_LOBE] + [(l, both(p)) for l, p in A_T_NOSE] + [(l, both(p)) for l, p in A_T_WAKE]
a_v = [(l, p) for l, p in A_V_LOBE] + [(l, flip(p)) for l, p in A_V_LOBE] + [(l, both(p)) for l, p in A_V_NOSE] + [(l, both(p)) for l, p in A_V_WAKE]

draw_panel('T', 0, 0, a_t, A_T_RINGS, A_T_LABELS)
draw_panel('V', 1, 0, a_v, A_V_RINGS, A_V_LABELS)
draw_panel('T', 0, 1, B_T_NOSE + B_T_TOP + B_T_BLOB + B_T_WAKE, B_T_RINGS, B_T_LABELS, SEP_B, (1.03, -.295), (.58, .034), (1.195, -.337))
draw_panel('V', 1, 1, B_V_NOSE + B_V_TOP + B_V_BLOB + B_V_WAKE, B_V_RINGS, B_V_LABELS, SEP_B, (.96, -.3), (.572, .034), (1.12, -.34))
draw_panel('T', 0, 2, C_T_NOSE + C_T_TOP + C_T_WAKE, C_T_RINGS, C_T_LABELS, SEP_C, (.976, -.291), (.531, .029), (1.193, -.337))
draw_panel('V', 1, 2, C_V_NOSE + C_V_TOP + C_V_WAKE, C_V_RINGS, C_V_LABELS, SEP_C, (.92, -.3), (.535, .03), (1.12, -.34))

for lab, yy in zip(['a', 'b', 'c'], [1189, 2456, 3722]):
    fig.text(1339 / W, 1 - yy / H, r'($\mathbf{' + lab + r'}$)', ha='center', va='center', fontsize=44, family='Liberation Serif')

fig.savefig('out.png', dpi=100)
